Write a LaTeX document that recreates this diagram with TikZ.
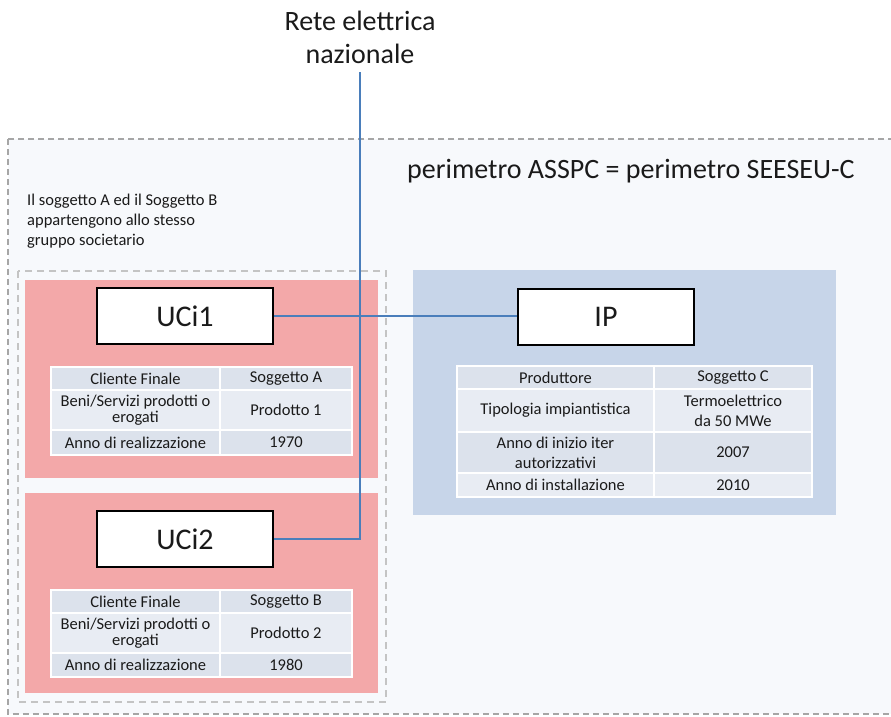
\documentclass[tikz,border=0pt]{standalone}
\usepackage{fontspec}
\setmainfont{Carlito}
\usetikzlibrary{calc}

\definecolor{perimfill}{HTML}{F7F9FC}
\definecolor{perimline}{HTML}{A6A6A6}
\definecolor{groupline}{HTML}{C4C4C4}
\definecolor{pinkbox}{HTML}{F3A8A9}
\definecolor{bluebox}{HTML}{C7D5E9}
\definecolor{gridline}{HTML}{4A7EBB}
\definecolor{cellA}{HTML}{DCE2EC}
\definecolor{cellB}{HTML}{E8ECF3}
\definecolor{txt}{HTML}{1A1A1A}

\tikzset{
  perimeter/.style={draw=perimline, fill=perimfill, line width=1.2pt, dash pattern=on 6pt off 4pt},
  groupbox/.style={draw=groupline, line width=1.5pt, dash pattern=on 7pt off 5pt},
  userzone/.style={fill=pinkbox},
  plantzone/.style={fill=bluebox},
  unitbox/.style={draw=black, fill=white, line width=2.4pt, minimum width=176pt, minimum height=56pt,
    inner sep=0pt, font=\fontsize{30}{30}\selectfont, text=txt},
  cell/.style={draw=white, line width=1.5pt, inner sep=0pt, outer sep=0pt, anchor=north west,
    align=center, text=txt},
  cellone/.style={cell, font=\fontsize{16.5}{16}\selectfont},
  celltwo/.style={cell, font=\fontsize{16.5}{20}\selectfont},
  link/.style={draw=gridline, line width=2.2pt},
  bigtext/.style={font=\fontsize{28}{33}\selectfont, text=txt, align=center, inner sep=0pt},
}

% one table row: #1,#2 node names; #3 x left; #4 x split; #5 x right; #6 y top; #7 y bottom;
% #8 style; #9 fill; the two texts come from \settexts
\newcommand{\cellrow}[9]{%
  \node[#8, fill=#9, minimum width={#4-#3}, minimum height={#7-#6}] (#1) at (#3,#6) {\cellrowleft};
  \node[#8, fill=#9, minimum width={#5-#4}, minimum height={#7-#6}] (#2) at (#4,#6) {\cellrowright};
}
\newcommand{\cellrowleft}{}
\newcommand{\cellrowright}{}
\newcommand{\settexts}[2]{\renewcommand{\cellrowleft}{#1}\renewcommand{\cellrowright}{#2}}

\begin{document}
\begin{tikzpicture}[x=1pt, y=-1pt]
\useasboundingbox (0,0) rectangle (891,717);

% outer perimeter
\path[perimeter] (8,139) rectangle (896,714);
\node[bigtext, anchor=west] (perim) at (407,171) {perimetro ASSPC = perimetro SEESEU-C};
\node[anchor=north west, align=left, inner sep=0pt, text=txt,
  font=\fontsize{16.5}{20}\selectfont] (note) at (27,194)
  {Il soggetto A ed il Soggetto B\\appartengono allo stesso\\gruppo societario};

% group of the two consumers
\path[groupbox] (18,271) rectangle (386,702);
\path[userzone] (25,280) rectangle (378,478);
\path[userzone] (25,493) rectangle (378,693);

% producer zone
\path[plantzone] (413,270) rectangle (836,515);

% units
\node[unitbox] (uci1) at (185,316) {UCi1};
\node[unitbox] (uci2) at (185,539) {UCi2};
\node[unitbox] (ip) at (606,317) {IP};

% table of UCi1
\settexts{Cliente Finale}{Soggetto A}
\cellrow{ta1}{tb1}{51}{220}{352}{367}{390}{cellone}{cellA}
\settexts{Beni/Servizi prodotti o\\erogati}{Prodotto 1}
\cellrow{ta2}{tb2}{51}{220}{352}{390}{430}{cellone}{cellB}
\settexts{Anno di realizzazione}{1970}
\cellrow{ta3}{tb3}{51}{220}{352}{430}{455}{cellone}{cellA}

% table of UCi2
\settexts{Cliente Finale}{Soggetto B}
\cellrow{ua1}{ub1}{51}{220}{352}{590}{613}{cellone}{cellA}
\settexts{Beni/Servizi prodotti o\\erogati}{Prodotto 2}
\cellrow{ua2}{ub2}{51}{220}{352}{613}{653}{cellone}{cellB}
\settexts{Anno di realizzazione}{1980}
\cellrow{ua3}{ub3}{51}{220}{352}{653}{677}{cellone}{cellA}

% table of IP
\settexts{Produttore}{Soggetto C}
\cellrow{pa1}{pb1}{457}{654}{812}{366}{389}{celltwo}{cellA}
\settexts{Tipologia impiantistica}{Termoelettrico\\da 50 MWe}
\cellrow{pa2}{pb2}{457}{654}{812}{389}{432}{celltwo}{cellB}
\settexts{Anno di inizio iter\\autorizzativi}{2007}
\cellrow{pa3}{pb3}{457}{654}{812}{432}{473}{celltwo}{cellA}
\settexts{Anno di installazione}{2010}
\cellrow{pa4}{pb4}{457}{654}{812}{473}{497}{celltwo}{cellB}

% national grid and connections
\node[bigtext, anchor=north, inner ysep=8pt] (rete) at (360,3) {Rete elettrica\\nazionale};
\coordinate (drop) at (rete.south |- uci2.east);
\draw[link] (rete.south) -- (drop) -- (uci2.east);
\draw[link] (uci1.east) -- (uci1.east -| ip.west);
\end{tikzpicture}
\end{document}
